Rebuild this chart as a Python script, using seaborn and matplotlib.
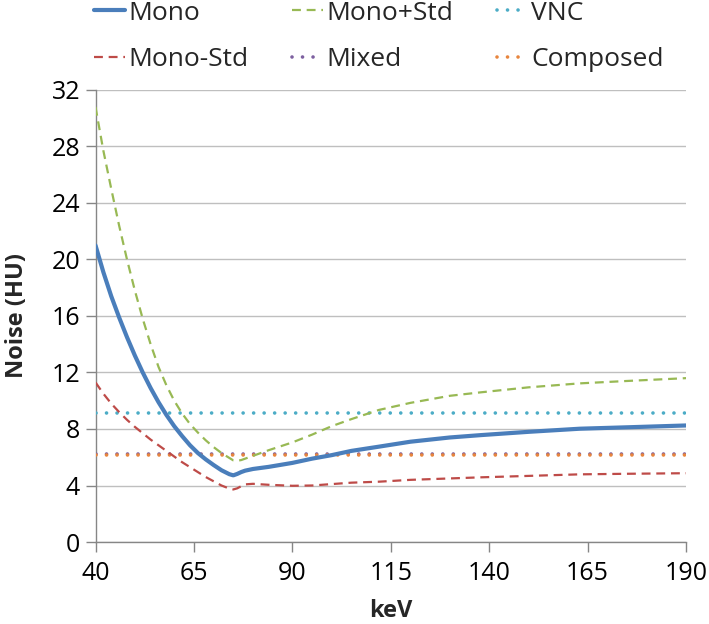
import numpy as np
import pandas as pd
import matplotlib
matplotlib.use("Agg")
import matplotlib.pyplot as plt
import seaborn as sns

# ---- data ----
kev = [40, 42, 44, 46, 48, 50, 52, 54, 56, 58, 60, 62, 64, 66, 68, 70, 72, 74,
       75, 76, 77, 78, 80,
       84, 90, 95, 100, 105, 112, 120, 130, 138, 150, 163, 175, 190]
mono = [21.0, 19.1, 17.4, 15.9, 14.5, 13.2, 12.0, 10.9, 9.9, 9.0, 8.2, 7.5,
        6.85, 6.3, 5.85, 5.45, 5.08, 4.8,
        4.72, 4.82, 4.95, 5.05, 5.17,
        5.32, 5.6, 5.9, 6.15, 6.45, 6.75, 7.1, 7.4, 7.57, 7.8, 8.02, 8.12, 8.25]
mono_plus = [30.8, 27.7, 25.0, 22.4, 20.0, 17.8, 15.8, 14.0, 12.4, 11.1, 10.0,
             9.1, 8.35, 7.75, 7.2, 6.72, 6.3, 5.95,
             5.78, 5.75, 5.8, 5.9, 6.1,
             6.5, 7.05, 7.6, 8.2, 8.7, 9.35, 9.85, 10.35, 10.6, 10.95, 11.23,
             11.4, 11.6]
mono_minus = [11.3, 10.5, 9.8, 9.2, 8.65, 8.15, 7.7, 7.25, 6.85, 6.45, 6.05,
              5.65, 5.3, 4.95, 4.6, 4.3, 4.0, 3.78,
              3.72, 3.8, 3.95, 4.08, 4.12,
              4.05, 3.98, 4.0, 4.1, 4.2, 4.27, 4.4, 4.5, 4.58, 4.68, 4.79,
              4.83, 4.87]
flat_kev = [40, 190]
vnc = [9.1, 9.1]
mixed = [6.2, 6.2]
composed = [6.15, 6.15]

x_ticks = [40, 65, 90, 115, 140, 165, 190]
y_ticks = [0, 4, 8, 12, 16, 20, 24, 28, 32]

# ---- style ----
sns.set_theme(style="white")
plt.rcParams['font.family'] = ['Open Sans', 'DejaVu Sans']

c_mono = "#4A7EBB"
c_plus = "#98B954"
c_minus = "#BE4B48"
c_vnc = "#4BACC6"
c_mixed = "#7D60A0"
c_comp = "#E8853D"

fig = plt.figure(figsize=(7.09, 6.24), dpi=100)
ax = fig.add_axes([0.1347, 0.1314, 0.9676 - 0.1347, 0.8558 - 0.1314])

df = pd.DataFrame({"keV": kev, "Mono": mono, "Mono+Std": mono_plus,
                   "Mono-Std": mono_minus})
dflat = pd.DataFrame({"keV": flat_kev, "VNC": vnc, "Mixed": mixed,
                      "Composed": composed})

dash = (0, (4, 2.6))
dot = (0, (0.01, 2.9))

sns.lineplot(data=df, x="keV", y="Mono", ax=ax, color=c_mono, lw=3.0,
             label="Mono", zorder=6)
sns.lineplot(data=df, x="keV", y="Mono+Std", ax=ax, color=c_plus, lw=1.6,
             label="Mono+Std", zorder=5)
sns.lineplot(data=dflat, x="keV", y="VNC", ax=ax, color=c_vnc, lw=2.6,
             label="VNC", zorder=4)
sns.lineplot(data=df, x="keV", y="Mono-Std", ax=ax, color=c_minus, lw=1.6,
             label="Mono-Std", zorder=5)
sns.lineplot(data=dflat, x="keV", y="Mixed", ax=ax, color=c_mixed, lw=2.6,
             label="Mixed", zorder=3)
sns.lineplot(data=dflat, x="keV", y="Composed", ax=ax, color=c_comp, lw=2.6,
             label="Composed", zorder=4)

lines = ax.get_lines()
styles = ["-", dash, dot, dash, dot, dot]
for ln, st in zip(lines, styles):
    ln.set_linestyle(st)
    if st is dot:
        ln.set_dash_capstyle("round")
    elif st is dash:
        ln.set_dash_capstyle("butt")
    else:
        ln.set_solid_capstyle("round")
        ln.set_solid_joinstyle("round")

ax.set_xlim(40, 190)
ax.set_ylim(0, 32)
ax.set_xticks(x_ticks)
ax.set_yticks(y_ticks)
ax.set_xticklabels([str(v) for v in x_ticks])
ax.set_yticklabels([str(v) for v in y_ticks])
ax.yaxis.grid(True, color="#BFBFBF", lw=1.0)
ax.xaxis.grid(False)
for s in ["top", "right"]:
    ax.spines[s].set_visible(False)
for s in ["left", "bottom"]:
    ax.spines[s].set_color("#868686")
    ax.spines[s].set_linewidth(1.0)
ax.tick_params(axis="both", which="major", length=7, width=1.0,
               color="#868686", labelsize=18, labelcolor="black",
               direction="out", bottom=True, left=True)
ax.tick_params(axis="y", pad=4)
ax.tick_params(axis="x", pad=6.5)
ax.set_xlabel("keV", fontsize=17, fontweight="bold")
ax.set_ylabel("Noise (HU)", fontsize=17, fontweight="bold")
ax.xaxis.set_label_coords(0.5, -0.126)
ax.yaxis.set_label_coords(-0.113, 0.5)

ax.get_legend().remove()
handles = lines
labels = ["Mono", "Mono+Std", "VNC", "Mono-Std", "Mixed", "Composed"]
order = [0, 3, 1, 4, 2, 5]
fig.legend([handles[i] for i in order], [labels[i] for i in order],
           ncol=3, loc="upper left", bbox_to_anchor=(0.133, 0.999),
           frameon=False, fontsize=19, handlelength=1.15,
           handletextpad=0.15, columnspacing=1.65, labelspacing=0.82,
           borderpad=0.0, borderaxespad=0.0)

fig.savefig("out.png", dpi=100)
